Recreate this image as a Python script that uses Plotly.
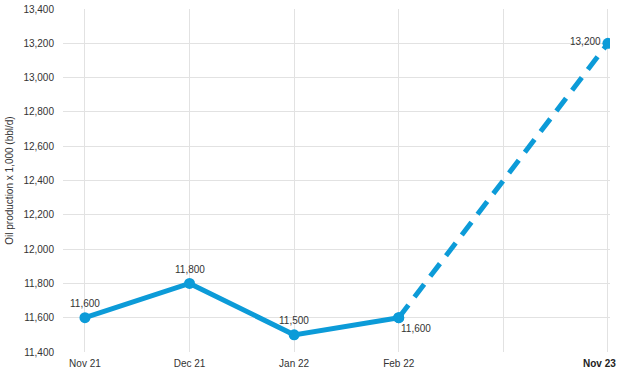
import plotly.graph_objects as go

categories = ["Nov 21", "Dec 21", "Jan 22", "Feb 22", "", "Nov 23"]
actual_values = [11600, 11800, 11500, 11600]
forecast_categories = ["Feb 22", "Nov 23"]
forecast_values = [11600, 13200]
y_ticks = list(range(11400, 13401, 200))

pos = {c: i for i, c in enumerate(categories)}
COLOR = "#0C9BD8"
FONT = "Liberation Sans, Arial, sans-serif"

fig = go.Figure()
fig.add_trace(go.Scatter(
    x=[pos[c] for c in categories[:4]], y=actual_values,
    mode="lines+markers", line=dict(color=COLOR, width=5),
    marker=dict(color=COLOR, size=11), showlegend=False, hoverinfo="skip"))
fig.add_trace(go.Scatter(
    x=[pos[c] for c in forecast_categories], y=forecast_values,
    mode="lines+markers", line=dict(color=COLOR, width=5, dash="16px,10px"),
    marker=dict(color=COLOR, size=11), showlegend=False, hoverinfo="skip"))

# value labels
label_specs = [
    ("Nov 21", 11600, 0, 14),
    ("Dec 21", 11800, 0, 14),
    ("Jan 22", 11500, 0, 14),
    ("Feb 22", 11600, 17, -11),
    ("Nov 23", 13200, -22, 2),
]
for c, v, xs, ys in label_specs:
    fig.add_annotation(x=pos[c], y=v, text=f"{v:,}", showarrow=False,
                       xshift=xs, yshift=ys,
                       font=dict(family=FONT, size=10, color="#333333"))

# last category label (bold, right-aligned at the edge)
last = categories[-1]
fig.add_annotation(x=pos[last], xref="x", y=0, yref="paper", text=f"<b>{last}</b>",
                   showarrow=False, xanchor="right", yanchor="top", xshift=10, yshift=-4,
                   font=dict(family=FONT, size=10, color="#222222"))
ticktext = ["" if c == last else c for c in categories]

fig.update_layout(
    width=620, height=379,
    margin=dict(l=63, r=10, t=9, b=27, autoexpand=False),
    paper_bgcolor="white", plot_bgcolor="white",
    font=dict(family=FONT, size=10, color="#333333"),
    xaxis=dict(range=[-0.21, 5.02], tickmode="array",
               tickvals=list(range(len(categories))), ticktext=ticktext,
               showgrid=True, gridcolor="#e2e2e2", gridwidth=1,
               zeroline=False, showline=False, ticks="",
               ticklabelstandoff=4,
               tickfont=dict(size=10, color="#333333")),
    yaxis=dict(range=[11400, 13400], tickmode="array", tickvals=y_ticks,
               ticktext=[f"{t:,}" for t in y_ticks],
               showgrid=True, gridcolor="#e2e2e2", gridwidth=1,
               zeroline=False, showline=False, ticks="",
               ticklabelstandoff=8,
               tickfont=dict(size=10, color="#333333"),
               title=dict(text="Oil production x 1,000 (bbl/d)", standoff=7,
                          font=dict(size=10, color="#333333"))),
)
fig.write_html("out.html", config={"displayModeBar": False},
               post_script="document.body.style.margin='0';document.body.style.overflow='hidden';")
